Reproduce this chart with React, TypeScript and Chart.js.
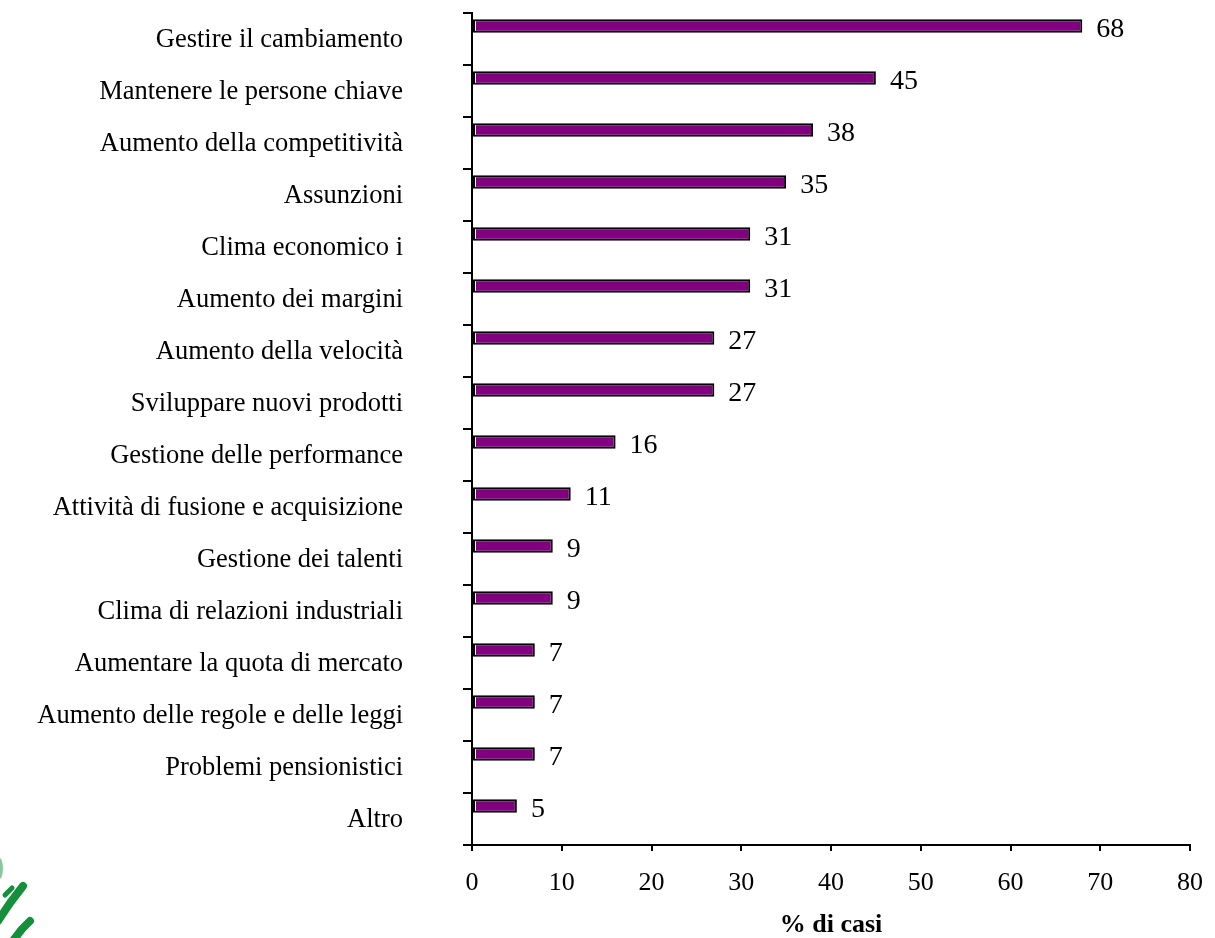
import React, { useEffect, useRef } from "react";
import { Chart, registerables } from "chart.js";

Chart.register(...registerables);

const categories: string[] = [
  "Gestire il cambiamento",
  "Mantenere le persone chiave",
  "Aumento della competitività",
  "Assunzioni",
  "Clima economico i",
  "Aumento dei margini",
  "Aumento della velocità",
  "Sviluppare nuovi prodotti",
  "Gestione delle performance",
  "Attività di fusione e acquisizione",
  "Gestione dei talenti",
  "Clima di relazioni industriali",
  "Aumentare la quota di mercato",
  "Aumento delle regole e delle leggi",
  "Problemi pensionistici",
  "Altro",
];

const percentCases: number[] = [68, 45, 38, 35, 31, 31, 27, 27, 16, 11, 9, 9, 7, 7, 7, 5];

const xTicks = { min: 0, max: 80, step: 10 };
const xAxisTitle = "% di casi";

const FONT = '"Liberation Serif", "Times New Roman", serif';

const textPlugin = {
  id: "textPlugin",
  afterDatasetsDraw(chart: any) {
    const ctx = chart.ctx;
    const meta = chart.getDatasetMeta(0);
    ctx.save();
    // thin white highlight along the left inner edge of each bar
    meta.data.forEach((el: any) => {
      const h = el.height;
      const top = el.y - h / 2;
      const bottom = el.y + h / 2;
      const left = el.base;
      ctx.strokeStyle = "#ffffff";
      ctx.lineWidth = 1;
      ctx.beginPath();
      ctx.moveTo(left + 2.5, bottom - 2);
      ctx.lineTo(left + 2.5, top + 2);
      ctx.stroke();
    });
    ctx.restore();
  },
  afterDraw(chart: any) {
    const ctx = chart.ctx;
    const yScale = chart.scales.y;
    const meta = chart.getDatasetMeta(0);
    ctx.save();
    ctx.fillStyle = "#000";
    ctx.font = `26.5px ${FONT}`;
    ctx.textAlign = "right";
    ctx.textBaseline = "middle";
    categories.forEach((label, i) => {
      const y = yScale.getPixelForValue(i);
      ctx.fillText(label, 403, y + 1);
    });
    ctx.font = `28px ${FONT}`;
    ctx.textAlign = "left";
    meta.data.forEach((el: any, i: number) => {
      ctx.fillText(String(percentCases[i]), el.x + 14, el.y + 4);
    });

    // partial green logo in the bottom-left corner
    ctx.strokeStyle = "#14903c";
    ctx.lineCap = "round";
    ctx.lineJoin = "round";
    ctx.lineWidth = 8;
    ctx.beginPath();
    ctx.moveTo(-2, 921);
    ctx.lineTo(10, 903);
    ctx.lineTo(23, 886);
    ctx.stroke();
    ctx.lineWidth = 5;
    ctx.beginPath();
    ctx.moveTo(5, 895);
    ctx.lineTo(12, 888);
    ctx.stroke();
    ctx.lineWidth = 8;
    ctx.beginPath();
    ctx.moveTo(12, 942);
    ctx.lineTo(22, 929);
    ctx.lineTo(30, 921);
    ctx.stroke();
    ctx.lineWidth = 3;
    ctx.globalAlpha = 0.5;
    ctx.beginPath();
    ctx.moveTo(0, 860);
    ctx.quadraticCurveTo(3, 868, 0, 877);
    ctx.stroke();
    ctx.restore();
  },
};

export default function App() {
  const canvasRef = useRef<HTMLCanvasElement | null>(null);

  useEffect(() => {
    if (!canvasRef.current) return;
    const chart = new Chart(canvasRef.current, {
      type: "bar",
      data: {
        labels: categories,
        datasets: [
          {
            data: percentCases,
            backgroundColor: "#800080",
            borderColor: "#000000",
            borderWidth: 2,
            borderSkipped: false,
            barPercentage: 0.52,
            categoryPercentage: 1,
          },
          {
            data: categories.map(() => null),
            backgroundColor: "rgba(0,0,0,0)",
            borderWidth: 0,
            barPercentage: 0.52,
            categoryPercentage: 1,
          },
        ],
      },
      options: {
        indexAxis: "y",
        animation: false,
        responsive: true,
        maintainAspectRatio: false,
        layout: { padding: { top: 13, right: 25, left: 0, bottom: 0 } },
        plugins: {
          legend: { display: false },
          tooltip: { enabled: false },
        },
        scales: {
          x: {
            type: "linear",
            min: xTicks.min,
            max: xTicks.max,
            ticks: {
              stepSize: xTicks.step,
              color: "#000",
              font: { family: FONT, size: 26 },
              padding: 17,
            },
            grid: {
              drawOnChartArea: false,
              drawTicks: true,
              tickLength: 6,
              color: "#000",
              lineWidth: 2,
            },
            border: { color: "#000", width: 2 },
            title: {
              display: true,
              text: xAxisTitle,
              color: "#000",
              font: { family: FONT, size: 26, weight: "bold", lineHeight: 1 },
              padding: { top: 0, bottom: 0 },
            },
            afterFit(scale: any) {
              scale.height = 93;
              scale.paddingRight = 0;
              scale.paddingLeft = 0;
            },
          },
          y: {
            type: "category",
            offset: true,
            ticks: { display: false },
            grid: {
              offset: true,
              drawOnChartArea: false,
              drawTicks: true,
              tickLength: 9,
              color: "#000",
              lineWidth: 2,
            },
            border: { color: "#000", width: 2 },
            afterFit(scale: any) {
              scale.width = 472;
            },
          },
        },
      },
      plugins: [textPlugin],
    });
    return () => chart.destroy();
  }, []);

  return (
    <div style={{ position: "fixed", left: 0, top: 0, width: 1215, height: 938, background: "#fff" }}>
      <canvas ref={canvasRef} />
    </div>
  );
}
